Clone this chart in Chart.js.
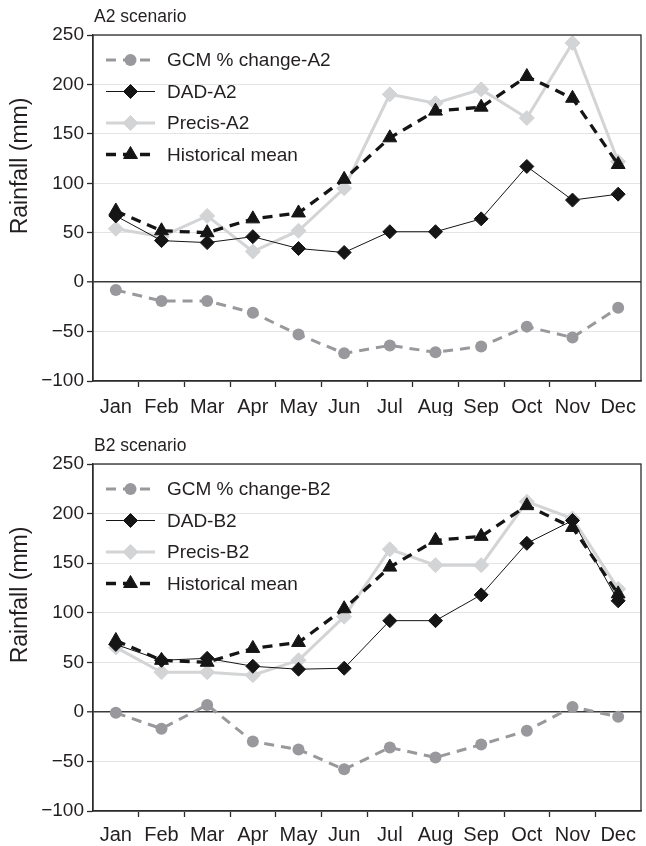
<!DOCTYPE html>
<html>
<head>
<meta charset="utf-8">
<script src="https://cdn.jsdelivr.net/npm/chart.js@4.4.1/dist/chart.umd.min.js"></script>
<style>
  html, body { margin: 0; padding: 0; background: #ffffff; overflow: hidden; }
  canvas { display: block; }
</style>
</head>
<body>
<canvas id="chartA" width="646" height="416"></canvas>
<canvas id="chartB" width="646" height="430"></canvas>
<script>
// ---- data ----
const months = ['Jan', 'Feb', 'Mar', 'Apr', 'May', 'Jun', 'Jul', 'Aug', 'Sep', 'Oct', 'Nov', 'Dec'];
const yTickMin = -100;
const yTickMax = 250;
const yTickStep = 50;

const historicalMean = [72, 52, 50, 64, 70, 104, 146, 173, 177, 208, 186, 119];

const gcmA2 = [-8, -19, -19, -31, -53, -72, -64, -71, -65, -45, -56, -26];
const dadA2 = [67, 42, 40, 46, 34, 30, 51, 51, 64, 117, 83, 89];
const precisA2 = [54, 46, 67, 31, 52, 95, 190, 181, 195, 166, 242, 122];

const gcmB2 = [-1, -17, 7, -30, -38, -58, -36, -46, -33, -19, 5, -5];
const dadB2 = [68, 52, 54, 46, 43, 44, 92, 92, 118, 170, 193, 112];
const precisB2 = [65, 40, 40, 37, 52, 96, 164, 148, 148, 212, 195, 124];

// ---- styles ----
const FONT = '"Liberation Sans", Arial, Helvetica, sans-serif';
const TEXT = '#231f20';
const AXIS = '#2b2b2b';
const GCM_C = '#99999d';
const PRECIS_C = '#d3d4d6';
const BLACK = '#151515';

function buildDatasets(gcm, dad, precis, suffix) {
  return [
    { label: 'GCM % change-' + suffix, data: gcm, borderColor: GCM_C, backgroundColor: GCM_C,
      borderWidth: 3, borderDash: [10, 7], pointStyle: 'circle', pointRadius: 6,
      pointBackgroundColor: GCM_C, pointBorderColor: GCM_C, pointBorderWidth: 0, order: 4 },
    { label: 'DAD-' + suffix, data: dad, borderColor: BLACK, backgroundColor: BLACK,
      borderWidth: 1, pointStyle: 'rectRot', pointRadius: 7,
      pointBackgroundColor: BLACK, pointBorderColor: BLACK, pointBorderWidth: 1, order: 1 },
    { label: 'Precis-' + suffix, data: precis, borderColor: PRECIS_C, backgroundColor: PRECIS_C,
      borderWidth: 3, pointStyle: 'rectRot', pointRadius: 7.5,
      pointBackgroundColor: PRECIS_C, pointBorderColor: PRECIS_C, pointBorderWidth: 1, order: 3 },
    { label: 'Historical mean', data: historicalMean, borderColor: BLACK, backgroundColor: BLACK,
      borderWidth: 3.3, borderDash: [10, 7], pointStyle: 'triangle', pointRadius: 8,
      pointBackgroundColor: BLACK, pointBorderColor: BLACK, pointBorderWidth: 1, order: 2 }
  ];
}

const frameAndTextPlugin = {
  id: 'frameAndText',
  afterDraw(chart, args, opts) {
    const ctx = chart.ctx;
    const a = chart.chartArea;
    ctx.save();
    // plot frame
    ctx.strokeStyle = AXIS;
    ctx.lineWidth = 1.3;
    ctx.strokeRect(a.left, a.top, a.right - a.left, a.bottom - a.top);
    // panel title
    ctx.fillStyle = TEXT;
    ctx.font = '17.5px ' + FONT;
    ctx.textBaseline = 'middle';
    ctx.textAlign = 'left';
    ctx.fillText(opts.title, a.left + 1, a.top - 18);
    // y axis title
    ctx.save();
    ctx.translate(21, a.top + 131);
    ctx.rotate(-Math.PI / 2);
    ctx.font = '23px ' + FONT;
    ctx.textAlign = 'center';
    ctx.textBaseline = 'middle';
    ctx.fillText(opts.yTitle, 0, 0);
    ctx.restore();
    // legend inside the plot area
    chart.data.datasets.forEach((ds, i) => {
      const y = a.top + 25 + i * 31.5;
      const x0 = a.left + 13, x1 = a.left + 62, xm = (x0 + x1) / 2;
      ctx.save();
      ctx.strokeStyle = ds.borderColor;
      ctx.lineWidth = ds.borderWidth;
      ctx.setLineDash(ds.borderDash || []);
      ctx.beginPath();
      ctx.moveTo(x0, y);
      ctx.lineTo(x1, y);
      ctx.stroke();
      ctx.setLineDash([]);
      ctx.fillStyle = ds.pointBackgroundColor;
      ctx.strokeStyle = ds.pointBorderColor;
      ctx.lineWidth = ds.pointBorderWidth;
      Chart.helpers.drawPoint(ctx, { pointStyle: ds.pointStyle, radius: ds.pointRadius,
        borderWidth: ds.pointBorderWidth, rotation: 0 }, xm, y);
      ctx.restore();
      ctx.fillStyle = TEXT;
      ctx.font = '19px ' + FONT;
      ctx.textBaseline = 'middle';
      ctx.textAlign = 'left';
      ctx.fillText(ds.label, a.left + 74, y + 1);
    });
    ctx.restore();
  }
};

function makeChart(id, title, topPad, labelPad, gcm, dad, precis, suffix) {
  return new Chart(document.getElementById(id), {
    type: 'line',
    data: { labels: months, datasets: buildDatasets(gcm, dad, precis, suffix) },
    plugins: [frameAndTextPlugin],
    options: {
      responsive: false,
      animation: false,
      devicePixelRatio: 1,
      events: [],
      layout: { autoPadding: false, padding: { top: topPad, left: 0, right: 5, bottom: 0 } },
      elements: { line: { tension: 0 } },
      plugins: {
        legend: { display: false },
        tooltip: { enabled: false },
        frameAndText: { title: title, yTitle: 'Rainfall (mm)' }
      },
      scales: {
        x: {
          type: 'category',
          offset: true,
          afterFit(scale) { scale.height = 35; scale.paddingLeft = 0; scale.paddingRight = 0; },
          grid: {
            offset: true,
            drawOnChartArea: false,
            drawTicks: true,
            tickLength: 6,
            tickWidth: 1.3,
            tickColor: (c) => (c.index === undefined || c.index === 0 || c.index >= 12) ? 'rgba(0,0,0,0)' : AXIS
          },
          border: { display: true, color: AXIS, width: 1.3 },
          ticks: { color: TEXT, font: { family: FONT, size: 20 }, padding: labelPad, maxRotation: 0, autoSkip: false }
        },
        y: {
          min: yTickMin,
          max: yTickMax,
          afterFit(scale) { scale.width = 93; },
          ticks: { stepSize: yTickStep, color: TEXT, font: { family: FONT, size: 19 }, padding: 3,
            callback: (v) => (v < 0 ? '\u2212' + Math.abs(v) : String(v)) },
          grid: {
            color: (c) => c.tick && c.tick.value === 0 ? '#3a3a3a' : '#e4e4e4',
            lineWidth: (c) => c.tick && c.tick.value === 0 ? 1.6 : 1,
            drawTicks: true,
            tickLength: 6,
            tickColor: AXIS,
            tickWidth: 1.3
          },
          border: { display: true, color: AXIS, width: 1.3 },
          title: { display: false }
        }
      }
    }
  });
}

makeChart('chartA', 'A2 scenario', 35, 8, gcmA2, dadA2, precisA2, 'A2');
makeChart('chartB', 'B2 scenario', 48, 6, gcmB2, dadB2, precisB2, 'B2');
</script>
</body>
</html>
